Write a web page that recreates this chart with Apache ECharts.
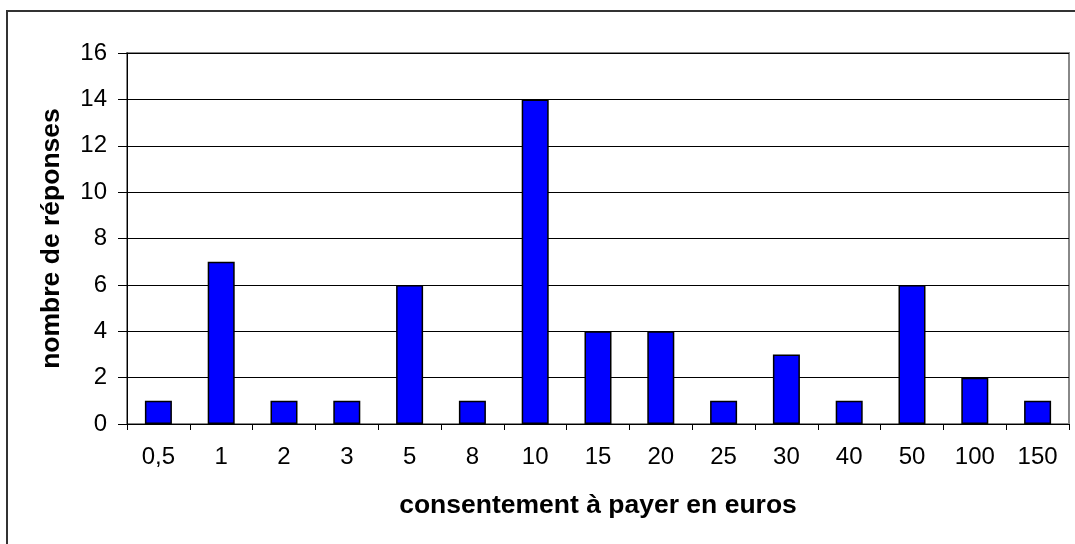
<!DOCTYPE html>
<html>
<head>
<meta charset="utf-8">
<script src="https://cdn.jsdelivr.net/npm/echarts@6/dist/echarts.min.js"></script>
<style>
  html, body { margin: 0; padding: 0; background: #fff; }
  #chart { width: 1075px; height: 544px; }
</style>
</head>
<body>
<div id="chart"></div>
<script>
// montants proposés (euros)
var categories = ["0,5", "1", "2", "3", "5", "8", "10", "15", "20", "25", "30", "40", "50", "100", "150"];
// nombre de réponses
var reponses = [1, 7, 1, 1, 6, 1, 14, 4, 4, 1, 3, 1, 6, 2, 1];

var chart = echarts.init(document.getElementById("chart"));

var option = {
  animation: false,
  backgroundColor: "#fff",
  textStyle: { fontFamily: "Liberation Sans, Arial, sans-serif" },
  graphic: [
    {
      // cadre extérieur (coupé à droite et en bas)
      type: "rect",
      shape: { x: 7, y: 11, width: 1100, height: 600 },
      style: { fill: null, stroke: "#333", lineWidth: 2 },
      silent: true
    }
  ],
  grid: { left: 127, top: 53, right: 6, bottom: 120, show: true, borderColor: "#888", borderWidth: 2 },
  xAxis: {
    type: "category",
    data: categories,
    name: "consentement à payer en euros",
    nameLocation: "middle",
    nameGap: 68,
    nameTextStyle: { fontSize: 26.5, fontWeight: "bold", color: "#000" },
    axisLine: { lineStyle: { color: "#000", width: 1 } },
    axisTick: { show: true, alignWithLabel: false, length: 6, lineStyle: { color: "#000" } },
    axisLabel: { fontSize: 24, color: "#000", margin: 21 }
  },
  yAxis: {
    type: "value",
    min: 0,
    max: 16,
    interval: 2,
    name: "nombre de réponses",
    nameLocation: "middle",
    nameGap: 62,
    nameTextStyle: { fontSize: 26.5, fontWeight: "bold", color: "#000" },
    axisLine: { show: true, lineStyle: { color: "#000", width: 1 } },
    axisTick: { show: true, length: 9, lineStyle: { color: "#000" } },
    axisLabel: { fontSize: 24, color: "#000", margin: 20 },
    splitLine: { show: true, lineStyle: { color: "#000", width: 1 } }
  },
  series: [
    {
      type: "bar",
      data: reponses,
      barWidth: "43%",
      itemStyle: { color: "#0000ff", borderColor: "#000", borderWidth: 1.5 }
    }
  ]
};

chart.setOption(option);
</script>
</body>
</html>
